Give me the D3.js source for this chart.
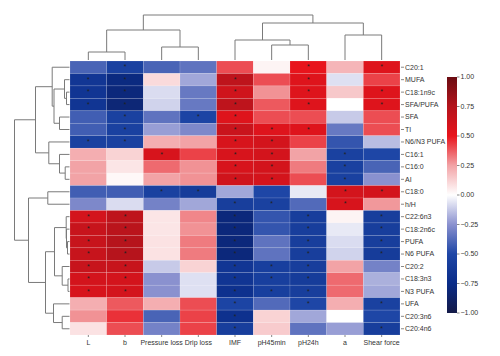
<!DOCTYPE html>
<html><head><meta charset="utf-8">
<script src="https://cdn.jsdelivr.net/npm/d3@7"></script>
<style>body{margin:0;background:#fff}svg{font-family:"Liberation Sans",Arial,sans-serif}</style>
</head><body><svg id="c" width="500" height="356"></svg>
<script>
const columns = ["L","b","Pressure loss","Drip loss","IMF","pH45min","pH24h","a","Shear force"];
const rows = ["C20:1","MUFA","C18:1n9c","SFA/PUFA","SFA","TI","N6/N3 PUFA","C16:1","C16:0","AI","C18:0","h/H",
  "C22:6n3","C18:2n6c","PUFA","N6 PUFA","C20:2","C18:3n3","N3 PUFA","UFA","C20:3n6","C20:4n6"];
const values = [
  [-0.40,-0.55,-0.40,-0.35, 0.40, 0.03, 0.50, 0.20, 0.55],
  [-0.65,-0.78, 0.10,-0.20, 0.70, 0.40, 0.55,-0.07, 0.42],
  [-0.66,-0.80,-0.08,-0.33, 0.62, 0.28, 0.55, 0.15, 0.55],
  [-0.66,-0.82,-0.10,-0.33, 0.70, 0.38, 0.55, 0.00, 0.55],
  [-0.42,-0.55,-0.35,-0.52, 0.55, 0.40, 0.40,-0.12, 0.40],
  [-0.42,-0.55,-0.22,-0.28, 0.65, 0.55, 0.55,-0.33, 0.40],
  [-0.55,-0.55, 0.22, 0.25, 0.58, 0.60, 0.42,-0.45,-0.15],
  [ 0.22, 0.12, 0.58, 0.42, 0.58, 0.60, 0.25,-0.55,-0.50],
  [ 0.25, 0.07, 0.35, 0.28, 0.58, 0.60, 0.32,-0.55,-0.40],
  [ 0.25, 0.02, 0.25, 0.28, 0.62, 0.60, 0.40,-0.55,-0.25],
  [-0.42,-0.42,-0.55,-0.60,-0.20,-0.50,-0.05, 0.60, 0.60],
  [-0.28,-0.08,-0.30,-0.20,-0.58,-0.55,-0.38, 0.58, 0.27],
  [ 0.60, 0.70, 0.07, 0.30,-0.80,-0.45,-0.58, 0.03,-0.58],
  [ 0.66, 0.72, 0.07, 0.28,-0.80,-0.45,-0.58,-0.05,-0.58],
  [ 0.66, 0.74, 0.08, 0.32,-0.80,-0.35,-0.58,-0.08,-0.58],
  [ 0.66, 0.74, 0.08, 0.32,-0.80,-0.35,-0.58,-0.10,-0.60],
  [ 0.66, 0.66,-0.12, 0.12,-0.65,-0.57,-0.58, 0.25,-0.30],
  [ 0.60, 0.60,-0.25,-0.07,-0.66,-0.57,-0.60, 0.35,-0.18],
  [ 0.58, 0.60,-0.25,-0.07,-0.70,-0.57,-0.58, 0.35,-0.20],
  [ 0.22, 0.38, 0.22, 0.40,-0.52,-0.38,-0.50, 0.22,-0.55],
  [ 0.28, 0.45,-0.40, 0.42,-0.70, 0.12,-0.20, 0.00,-0.50],
  [ 0.08, 0.40,-0.30, 0.42,-0.58, 0.14,-0.35,-0.22,-0.58]
];
const signif = ["010000101","110010100","110010101","110010101","010110000","010011100","110011000",
  "001011010","000011010","000011010","001100011","000011010","110010101","110010101","110010101",
  "110010101","110011100","110011100","110011100","000010101","000010000","000010001"];
const colTree = [45, [30, [8,"L","b"], [13,"Pressure loss","Drip loss"]],
                     [37, [20,"IMF",[15,"pH45min","pH24h"]], [25,"a","Shear force"]]];
const rowTree = [55,
  [34, [17.3,"C20:1",[15.5,[5,"MUFA",[3,"C18:1n9c","SFA/PUFA"]],[10,"SFA","TI"]]],
       [20.7,"N6/N3 PUFA",[10,"C16:1",[4.3,"C16:0","AI"]]]],
  [41, [21.7,"C18:0","h/H"],
       [24, [15,[3.3,"C22:6n3",[3,"C18:2n6c",[2,"PUFA","N6 PUFA"]]],[7.3,"C20:2",[1.5,"C18:3n3","N3 PUFA"]]],
            [16,"UFA",[7.3,"C20:3n6","C20:4n6"]]]]];
const legendTicks = [1,0.75,0.5,0.25,0,-0.25,-0.5,-0.75,-1];
const colorStops = [-1,-0.75,-0.5,-0.25,0,0.25,0.5,0.75,1];
const colorRange = ["#141a48","#0a2c88","#1e46a6","#8a91cf","#ffffff","#f2a3a6","#e8141c","#b4141c","#6b0c12"];

const svg = d3.select("#c");
const x = d3.scaleBand().domain(columns).range([70,400]);
const y = d3.scaleBand().domain(rows).range([61,335]);
const color = d3.scaleLinear().domain(colorStops).range(colorRange).clamp(true);

// cells
const cells = [];
rows.forEach((r,i)=>columns.forEach((c,j)=>cells.push({r,c,v:values[i][j],s:signif[i][j]==="1"})));
svg.append("g").selectAll("rect").data(cells).join("rect")
  .attr("x",d=>x(d.c)).attr("y",d=>y(d.r)).attr("width",x.bandwidth()).attr("height",y.bandwidth())
  .attr("fill",d=>color(d.v)).attr("stroke","#ffffff").attr("stroke-opacity",0.25).attr("stroke-width",0.5);
svg.append("g").selectAll("text").data(cells.filter(d=>d.s)).join("text")
  .attr("x",d=>x(d.c)+x.bandwidth()/2).attr("y",d=>y(d.r)+y.bandwidth()/2+2.2)
  .attr("text-anchor","middle").attr("font-size",7).attr("fill","#222").text("*");

// dendrograms
function drawTree(tree, posScale, hScale, horizontal){
  const g = svg.append("g").attr("fill","none").attr("stroke","#7a7a7a").attr("stroke-width",1);
  function walk(n){
    if(typeof n==="string") return {p:posScale(n)+posScale.bandwidth()/2,h:0};
    const a=walk(n[1]), b=walk(n[2]), h=n[0];
    const H=hScale(h), Ha=hScale(a.h), Hb=hScale(b.h);
    const path = horizontal
      ? `M${Ha},${a.p}H${H}V${b.p}H${Hb}`
      : `M${a.p},${Ha}V${H}H${b.p}V${Hb}`;
    g.append("path").attr("d",path);
    return {p:(a.p+b.p)/2,h};
  }
  walk(tree);
}
drawTree(colTree, x, d3.scaleLinear().domain([0,45]).range([60,15]), false);
drawTree(rowTree, y, d3.scaleLinear().domain([0,55]).range([69.5,14.5]), true);

// bottom labels
const bx = svg.append("g");
columns.forEach(c=>{
  const cx = x(c)+x.bandwidth()/2;
  bx.append("line").attr("x1",cx).attr("x2",cx).attr("y1",335).attr("y2",337).attr("stroke","#555").attr("stroke-width",0.7);
  bx.append("text").attr("x",cx).attr("y",344.5).attr("text-anchor","middle").attr("font-size",7).attr("fill","#333").text(c);
});
// right labels
const ry = svg.append("g");
rows.forEach(r=>{
  const cy = y(r)+y.bandwidth()/2;
  ry.append("line").attr("x1",401).attr("x2",404).attr("y1",cy).attr("y2",cy).attr("stroke","#555").attr("stroke-width",0.7);
  ry.append("text").attr("x",405).attr("y",cy).attr("dy","0.35em").attr("font-size",7).attr("fill","#333").text(r);
});

// colorbar
const ly = d3.scaleLinear().domain([-1,1]).range([313,77]);
const defs = svg.append("defs");
const grad = defs.append("linearGradient").attr("id","cb").attr("x1",0).attr("x2",0).attr("y1",1).attr("y2",0);
colorStops.forEach((s,i)=>grad.append("stop").attr("offset",(s+1)/2).attr("stop-color",colorRange[i]));
svg.append("rect").attr("x",447).attr("y",ly(1)).attr("width",10).attr("height",ly(-1)-ly(1)).attr("fill","url(#cb)");
const lg = svg.append("g");
legendTicks.forEach(t=>{
  lg.append("line").attr("x1",457).attr("x2",459.5).attr("y1",ly(t)).attr("y2",ly(t)).attr("stroke","#555").attr("stroke-width",0.7);
  lg.append("text").attr("x",460.5).attr("y",ly(t)).attr("dy","0.35em").attr("font-size",7).attr("fill","#333").text(d3.format(".2f")(t));
});
</script></body></html>
